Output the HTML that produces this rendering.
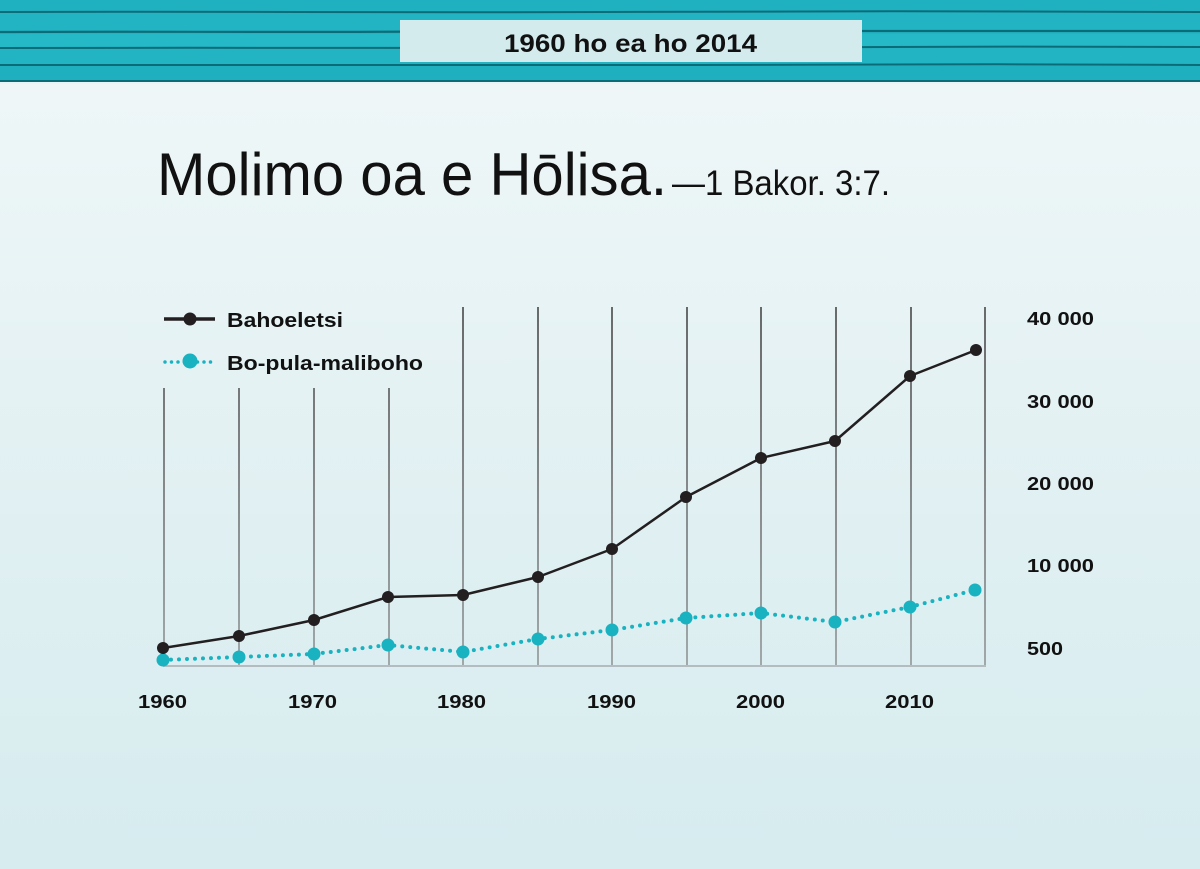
<!DOCTYPE html>
<html>
<head>
<meta charset="utf-8">
<style>
html,body{margin:0;padding:0;}
body{width:1200px;height:869px;overflow:hidden;background:#e4f2f4;}
svg{display:block;}
text{font-family:"Liberation Sans",sans-serif;}
</style>
</head>
<body>
<svg width="1200" height="869" viewBox="0 0 1200 869" xmlns="http://www.w3.org/2000/svg">
<defs>
<linearGradient id="bg" x1="0" y1="0" x2="0" y2="1">
<stop offset="0" stop-color="#f1f8f9"/>
<stop offset="0.5" stop-color="#e3f1f3"/>
<stop offset="1" stop-color="#d6ecef"/>
</linearGradient>
<linearGradient id="vl" gradientUnits="userSpaceOnUse" x1="0" y1="307" x2="0" y2="666">
<stop offset="0" stop-color="#5a5a5a"/>
<stop offset="1" stop-color="#9aa0a2"/>
</linearGradient>
</defs>
<rect x="0" y="0" width="1200" height="869" fill="url(#bg)"/>

<!-- header wood -->
<rect x="0" y="0" width="1200" height="82" fill="#22b4c3"/>
<rect x="0" y="0" width="1200" height="12" fill="#20b1c0"/>
<rect x="0" y="34" width="1200" height="14" fill="#25b8c7"/>
<rect x="0" y="66" width="1200" height="15" fill="#1fb0bf"/>
<g fill="none" stroke="#0b6c78" stroke-linecap="round">
<path d="M0 12 C200 11 400 13 600 12 S1000 11 1200 12" stroke-width="2"/>
<path d="M0 32 C150 31 300 33 500 31 S900 33 1200 31" stroke-width="2.2"/>
<path d="M0 48 C200 47 350 49 600 48 S1000 46 1200 47" stroke-width="2"/>
<path d="M0 65 C250 64 450 66 700 65 S1000 64 1200 65" stroke-width="2"/>
<path d="M0 81 L1200 81" stroke-width="2"/>
</g>
<rect x="0" y="82" width="1200" height="2" fill="#e8f4f6"/>

<!-- header box -->
<rect x="400" y="20" width="462" height="42" fill="#d4ebee"/>
<text x="504" y="52" font-size="25" font-weight="bold" fill="#111" textLength="253" lengthAdjust="spacingAndGlyphs">1960 ho ea ho 2014</text>

<!-- title -->
<text x="157" y="195" font-size="60" fill="#111" textLength="510" lengthAdjust="spacingAndGlyphs">Molimo oa e Hōlisa.</text>
<text x="672" y="195" font-size="35" fill="#111" textLength="218" lengthAdjust="spacingAndGlyphs">—1 Bakor.  3:7.</text>

<!-- vertical grid lines -->
<g stroke="url(#vl)" stroke-width="1.8">
<line x1="164" y1="388" x2="164" y2="666"/>
<line x1="239" y1="388" x2="239" y2="666"/>
<line x1="314" y1="388" x2="314" y2="666"/>
<line x1="389" y1="388" x2="389" y2="666"/>
<line x1="463" y1="307" x2="463" y2="666"/>
<line x1="538" y1="307" x2="538" y2="666"/>
<line x1="612" y1="307" x2="612" y2="666"/>
<line x1="687" y1="307" x2="687" y2="666"/>
<line x1="761" y1="307" x2="761" y2="666"/>
<line x1="836" y1="307" x2="836" y2="666"/>
<line x1="911" y1="307" x2="911" y2="666"/>
<line x1="985" y1="307" x2="985" y2="666"/>
</g>
<line x1="163" y1="666" x2="986" y2="666" stroke="#b3bcbe" stroke-width="2"/>

<!-- cyan series -->
<polyline fill="none" stroke="#19b2c1" stroke-width="4" stroke-linecap="round" stroke-dasharray="0 8"
points="163,660 239,657 314,654 388,645 463,652 538,639 612,630 686,618 761,613 835,622 910,607 975,590"/>
<g fill="#19b2c1">
<circle cx="163" cy="660" r="6.5"/><circle cx="239" cy="657" r="6.5"/><circle cx="314" cy="654" r="6.5"/>
<circle cx="388" cy="645" r="6.5"/><circle cx="463" cy="652" r="6.5"/><circle cx="538" cy="639" r="6.5"/>
<circle cx="612" cy="630" r="6.5"/><circle cx="686" cy="618" r="6.5"/><circle cx="761" cy="613" r="6.5"/>
<circle cx="835" cy="622" r="6.5"/><circle cx="910" cy="607" r="6.5"/><circle cx="975" cy="590" r="6.5"/>
</g>

<!-- black series -->
<polyline fill="none" stroke="#231f20" stroke-width="2.5" stroke-linejoin="round"
points="163,648 239,636 314,620 388,597 463,595 538,577 612,549 686,497 761,458 835,441 910,376 976,350"/>
<g fill="#231f20">
<circle cx="163" cy="648" r="6"/><circle cx="239" cy="636" r="6"/><circle cx="314" cy="620" r="6"/>
<circle cx="388" cy="597" r="6"/><circle cx="463" cy="595" r="6"/><circle cx="538" cy="577" r="6"/>
<circle cx="612" cy="549" r="6"/><circle cx="686" cy="497" r="6"/><circle cx="761" cy="458" r="6"/>
<circle cx="835" cy="441" r="6"/><circle cx="910" cy="376" r="6"/><circle cx="976" cy="350" r="6"/>
</g>

<!-- legend -->
<line x1="164" y1="319" x2="215" y2="319" stroke="#231f20" stroke-width="3.5"/>
<circle cx="190" cy="319" r="6.5" fill="#231f20"/>
<text x="227" y="327" font-size="20" font-weight="bold" fill="#111" textLength="116" lengthAdjust="spacingAndGlyphs">Bahoeletsi</text>
<line x1="165" y1="362" x2="217" y2="362" stroke="#19b2c1" stroke-width="3.5" stroke-linecap="round" stroke-dasharray="0 6.5"/>
<circle cx="190" cy="361" r="7.5" fill="#19b2c1"/>
<text x="227" y="370" font-size="20" font-weight="bold" fill="#111" textLength="196" lengthAdjust="spacingAndGlyphs">Bo-pula-maliboho</text>

<!-- y labels -->
<g font-size="18" font-weight="bold" fill="#111">
<text x="1027" y="325" textLength="67" lengthAdjust="spacingAndGlyphs">40 000</text>
<text x="1027" y="408" textLength="67" lengthAdjust="spacingAndGlyphs">30 000</text>
<text x="1027" y="490" textLength="67" lengthAdjust="spacingAndGlyphs">20 000</text>
<text x="1027" y="572" textLength="67" lengthAdjust="spacingAndGlyphs">10 000</text>
<text x="1027" y="655" textLength="36" lengthAdjust="spacingAndGlyphs">500</text>
</g>

<!-- x labels -->
<g font-size="18" font-weight="bold" fill="#111">
<text x="138" y="708" textLength="49" lengthAdjust="spacingAndGlyphs">1960</text>
<text x="288" y="708" textLength="49" lengthAdjust="spacingAndGlyphs">1970</text>
<text x="437" y="708" textLength="49" lengthAdjust="spacingAndGlyphs">1980</text>
<text x="587" y="708" textLength="49" lengthAdjust="spacingAndGlyphs">1990</text>
<text x="736" y="708" textLength="49" lengthAdjust="spacingAndGlyphs">2000</text>
<text x="885" y="708" textLength="49" lengthAdjust="spacingAndGlyphs">2010</text>
</g>
</svg>
</body>
</html>
